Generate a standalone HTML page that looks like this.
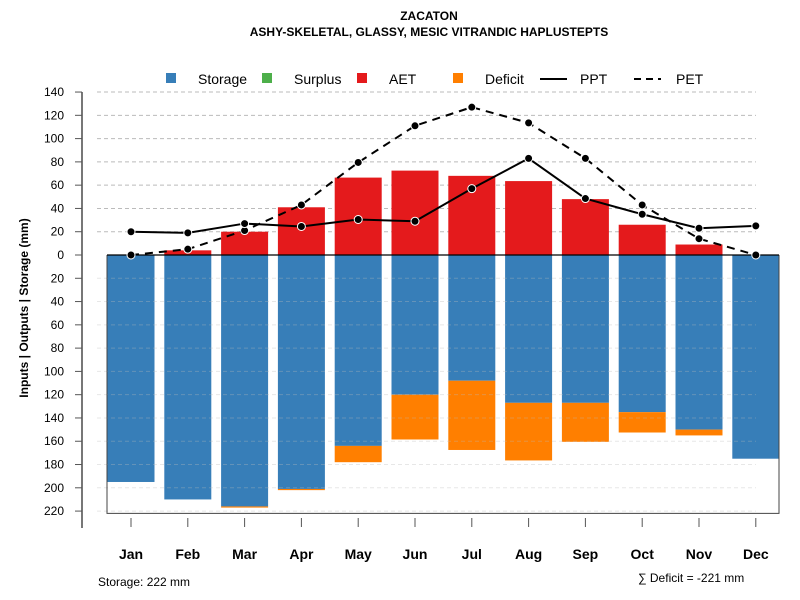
<!DOCTYPE html>
<html><head><meta charset="utf-8"><style>
body{margin:0;background:#fff}
svg{display:block;font-family:"Liberation Sans",Arial,sans-serif}
</style></head><body>
<svg id="chart" width="800" height="600" viewBox="0 0 800 600">
<text x="429" y="20" text-anchor="middle" font-size="12" font-weight="bold">ZACATON</text>
<text x="429" y="36" text-anchor="middle" font-size="12" font-weight="bold">ASHY-SKELETAL, GLASSY, MESIC VITRANDIC HAPLUSTEPTS</text>
<g>
<rect x="166" y="73" width="10" height="10" fill="#377EB8"/>
<text x="198" y="84" font-size="14">Storage</text>
<rect x="262" y="73" width="10" height="10" fill="#4DAF4A"/>
<text x="294" y="84" font-size="14">Surplus</text>
<rect x="357" y="73" width="10" height="10" fill="#E41A1C"/>
<text x="389" y="84" font-size="14">AET</text>
<rect x="453" y="73" width="10" height="10" fill="#FF7F00"/>
<text x="485" y="84" font-size="14">Deficit</text>
<line x1="540" y1="79" x2="567" y2="79" stroke="#000" stroke-width="2"/>
<text x="580" y="84" font-size="14">PPT</text>
<line x1="634" y1="79" x2="661" y2="79" stroke="#000" stroke-width="2" stroke-dasharray="7,5"/>
<text x="676" y="84" font-size="14">PET</text>
</g>
<g id="gridTop"></g>
<g id="bars"></g>
<g id="gridBottom"></g>
<g id="axes"></g>
<g id="lines"></g>
<text transform="translate(28,308) rotate(-90)" text-anchor="middle" font-size="12" font-weight="bold">Inputs | Outputs | Storage    (mm)</text>
<text x="98" y="586" font-size="12">Storage: 222 mm</text>
<text x="638" y="582" font-size="12">∑ Deficit = -221 mm</text>
</svg>
<script>
const months=["Jan","Feb","Mar","Apr","May","Jun","Jul","Aug","Sep","Oct","Nov","Dec"];
const storage=[195,210,216,201,164,120,108,127,127,135,150,175];
const deficit=[0,0,1,1,14,38.5,59.5,49.5,33.5,17.5,5,0];
const aet=[0,4,20,41,66.5,72.5,68,63.5,48,26,9,0];
const ppt=[20,19,27,24.5,30.5,29,57,83,48.5,35,23,25];
const pet=[0,5,21,43,79.5,111,127,113.5,83,43,14,0];
const yTicks=[140,120,100,80,60,40,20,0,-20,-40,-60,-80,-100,-120,-140,-160,-180,-200,-220];
const maxStorage=222;
const NS="http://www.w3.org/2000/svg";
const y0=255,k=1.164;
function y(v){return y0-v*k;}
function x(i){return 131+i*56.8;}
const bw=47;
function mk(tag,attrs,parent){const e=document.createElementNS(NS,tag);for(const a in attrs)e.setAttribute(a,attrs[a]);parent.appendChild(e);return e;}
const gT=document.getElementById('gridTop'),gB=document.getElementById('gridBottom'),bars=document.getElementById('bars'),axes=document.getElementById('axes'),lines=document.getElementById('lines');
yTicks.forEach(t=>{
  if(t===0)return;
  const g=t>0?gT:gB;
  const l=mk('line',{x1:97,x2:756,y1:y(t),y2:y(t),stroke:'#bbb','stroke-opacity':t>0?1:0.35,'stroke-width':1,'stroke-dasharray':'4,3'},g);
  
  
});
months.forEach((m,i)=>{
  const xl=x(i)-bw/2;
  const b=mk('rect',{x:xl,y:y(0),width:bw,height:storage[i]*k,fill:'#377EB8'},bars);
  
  
  if(deficit[i]>0){
    const d=mk('rect',{x:xl,y:y(-storage[i]),width:bw,height:deficit[i]*k,fill:'#FF7F00'},bars);
    
    
  }
  if(aet[i]>0){
    const a=mk('rect',{x:xl,y:y(aet[i]),width:bw,height:aet[i]*k,fill:'#E41A1C'},bars);
    
    
  }
});
const box=mk('path',{d:`M107,${y(0)} V${y(-maxStorage)} H779 V${y(0)}`,fill:'none',stroke:'#444','stroke-width':1},axes);


const zl=mk('line',{x1:107,x2:779,y1:y(0),y2:y(0),stroke:'#000','stroke-width':1.2},axes);


const ya=mk('line',{x1:82,x2:82,y1:y(140),y2:528,stroke:'#777','stroke-width':2},axes);


yTicks.forEach(t=>{
  mk('line',{x1:75,x2:82,y1:y(t),y2:y(t),stroke:'#555','stroke-width':1},axes);
  const tx=mk('text',{x:64,y:y(t)+4,'text-anchor':'end','font-size':12},axes);
  tx.textContent=Math.abs(t);
  
  
});
months.forEach((m,i)=>{
  mk('line',{x1:x(i),x2:x(i),y1:518,y2:527,stroke:'#555','stroke-width':1},axes);
  const tx=mk('text',{x:x(i),y:559,'text-anchor':'middle','font-size':14,'font-weight':'bold'},axes);
  tx.textContent=m;
  
  
});
function series(vals,dash,name){
  const p=mk('polyline',{points:vals.map((v,i)=>x(i)+','+y(v)).join(' '),fill:'none',stroke:'#000','stroke-width':2,'stroke-dasharray':dash},lines);
  
  
  vals.forEach((v,i)=>{
    const c=mk('circle',{cx:x(i),cy:y(v),r:4,fill:'#000',stroke:'#fff','stroke-width':1},lines);
    
    
  });
}
series(pet,'8,6','pet');
series(ppt,'none','ppt');
</script>
</body></html>
